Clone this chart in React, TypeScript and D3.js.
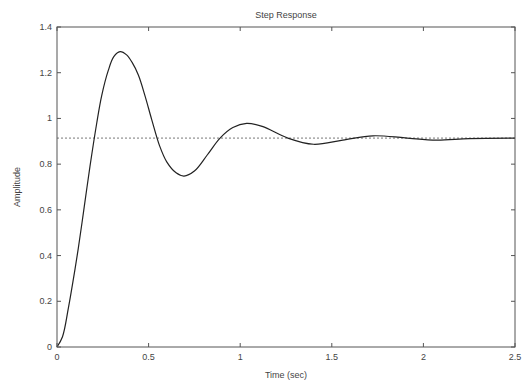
import React from "react";
import * as d3 from "d3";

const timeValues = [0, 0.03, 0.062, 0.09, 0.116, 0.149, 0.18, 0.217, 0.244, 0.28, 0.31, 0.344, 0.38, 0.41, 0.444, 0.48, 0.517, 0.56, 0.599, 0.65, 0.693, 0.75, 0.82, 0.89, 0.96, 1.035, 1.12, 1.26, 1.4, 1.56, 1.725, 1.9, 2.07, 2.25, 2.5];
const amplitudeValues = [0, 0.045, 0.17, 0.3, 0.43, 0.615, 0.79, 0.98, 1.1, 1.21, 1.27, 1.292, 1.278, 1.245, 1.19, 1.1, 0.995, 0.88, 0.81, 0.762, 0.748, 0.77, 0.84, 0.914, 0.96, 0.978, 0.965, 0.914, 0.887, 0.905, 0.924, 0.915, 0.905, 0.912, 0.914];
const steadyState = 0.914;
const xTicks = [0, 0.5, 1, 1.5, 2, 2.5];
const yTicks = [0, 0.2, 0.4, 0.6, 0.8, 1, 1.2, 1.4];
const title = "Step Response";
const xLabel = "Time (sec)";
const yLabel = "Amplitude";

export default function App() {
  const W = 524, H = 381;
  const left = 57, right = 515, top = 27, bottom = 347;
  const x = d3.scaleLinear().domain([0, 2.5]).range([left, right]);
  const y = d3.scaleLinear().domain([0, 1.4]).range([bottom, top]);
  const pts = timeValues.map((t, i) => [t, amplitudeValues[i]] as [number, number]);
  const line = d3.line<[number, number]>().x(d => x(d[0])).y(d => y(d[1])).curve(d3.curveCatmullRom.alpha(0.5));
  const axisColor = "#555";
  const textColor = "#444";
  const font = "Liberation Sans, Arial, sans-serif";
  const tl = 4;
  const fmt = (v: number) => String(+v.toFixed(1));
  return (
    <svg width={W} height={H} style={{ position: "absolute", left: 0, top: 0, background: "#fff" }}>
      <rect x={0} y={0} width={W} height={H} fill="#fff" />
      <line x1={x(0)} x2={x(2.5)} y1={y(steadyState)} y2={y(steadyState)} stroke="#777" strokeWidth={1} strokeDasharray="2,2" />
      <path d={line(pts) || ""} fill="none" stroke="#222" strokeWidth={1.2} />
      <rect x={left} y={top} width={right - left} height={bottom - top} fill="none" stroke={axisColor} strokeWidth={1} />
      {xTicks.map(t => (
        <g key={"x" + t}>
          <line x1={x(t)} x2={x(t)} y1={bottom} y2={bottom - tl} stroke={axisColor} />
          <line x1={x(t)} x2={x(t)} y1={top} y2={top + tl} stroke={axisColor} />
          <text x={x(t)} y={bottom + 13} textAnchor="middle" fontSize={9} fontFamily={font} fill={textColor}>{fmt(t)}</text>
        </g>
      ))}
      {yTicks.map(v => (
        <g key={"y" + v}>
          <line x1={left} x2={left + tl} y1={y(v)} y2={y(v)} stroke={axisColor} />
          <line x1={right} x2={right - tl} y1={y(v)} y2={y(v)} stroke={axisColor} />
          <text x={left - 5} y={y(v) + 3} textAnchor="end" fontSize={9} fontFamily={font} fill={textColor}>{fmt(v)}</text>
        </g>
      ))}
      <text x={(left + right) / 2} y={18} textAnchor="middle" fontSize={9} fontFamily={font} fill={textColor}>{title}</text>
      <text x={(left + right) / 2} y={378} textAnchor="middle" fontSize={9} fontFamily={font} fill={textColor}>{xLabel}</text>
      <text transform={`translate(20,${(top + bottom) / 2}) rotate(-90)`} textAnchor="middle" fontSize={9} fontFamily={font} fill={textColor}>{yLabel}</text>
    </svg>
  );
}
